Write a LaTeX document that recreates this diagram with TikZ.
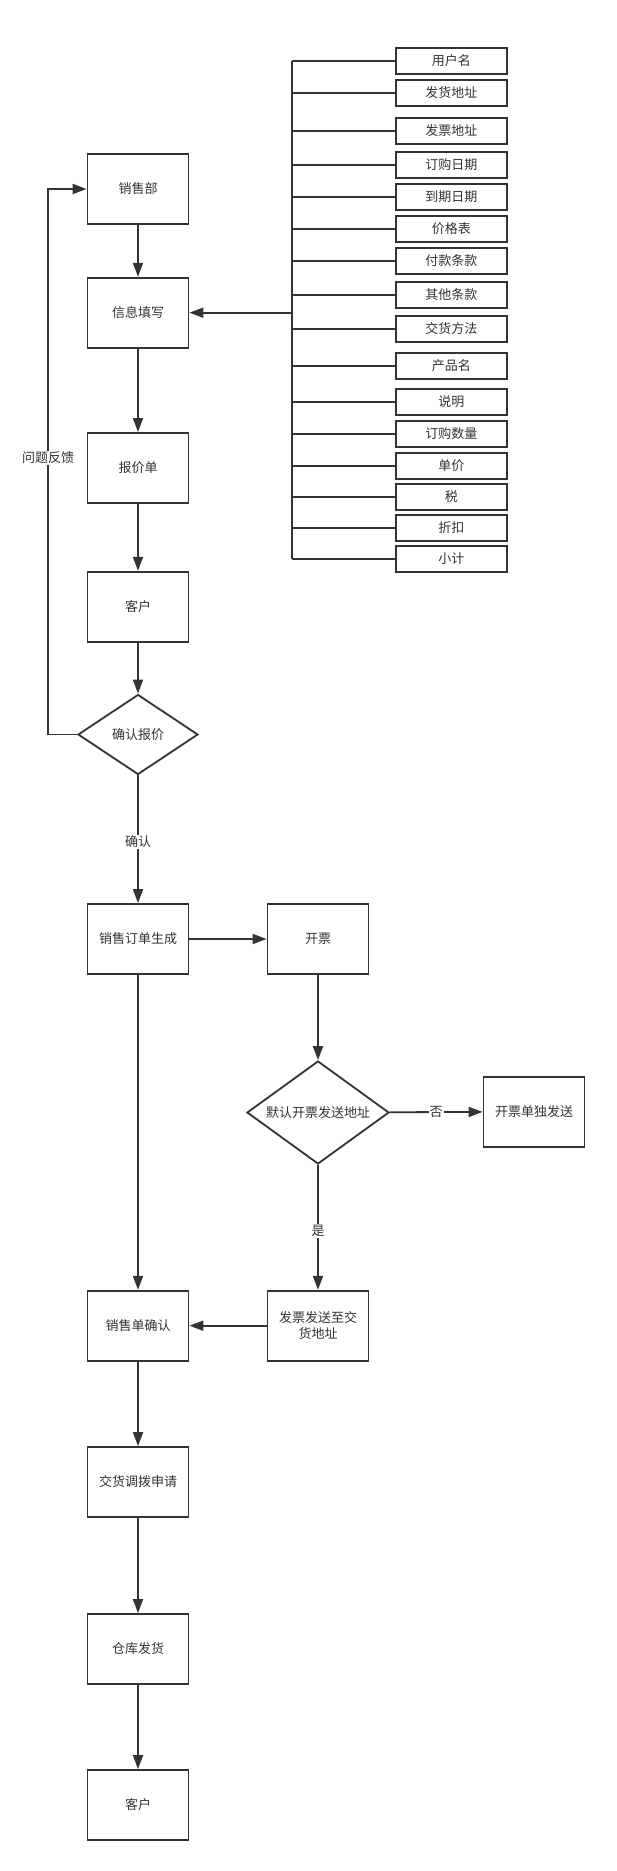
\documentclass[tikz,border=0pt]{standalone}
\usepackage{fontspec}
\newfontfamily\cjk{Noto Sans CJK SC}
\usetikzlibrary{arrows.meta,shapes.geometric}
\definecolor{ink}{HTML}{333333}
\tikzset{
  base/.style={draw=ink, line width=1.8pt, text=ink, font=\cjk\fontsize{13}{16}\selectfont, fill=white, inner sep=0pt},
  box/.style={base, rectangle, minimum width=101pt, minimum height=70pt, align=center},
  small/.style={base, rectangle, minimum width=111pt, minimum height=26pt},
  dia/.style={base, diamond, aspect=1.4},
  conn/.style={draw=ink, line width=1.8pt},
  arr/.style={conn, -{Triangle[length=14pt,width=10pt]}},
  lbl/.style={fill=white, text=ink, font=\cjk\fontsize{13}{16}\selectfont, inner sep=1pt}
}
\begin{document}
\begin{tikzpicture}[x=1pt,y=-1pt]
\useasboundingbox (0,0) rectangle (616,1871);
% left column
\node[box] (xsb) at (138,189) {销售部};
\node[box] (info) at (138,312.7) {信息填写};
\node[box] (quote) at (138,468) {报价单};
\node[box] (cust1) at (138,606.7) {客户};
\node[dia, minimum width=120pt, minimum height=80pt] (conf) at (138,734.5) {确认报价};
\node[box] (order) at (138,939) {销售订单生成};
\node[box] (inv) at (318,939) {开票};
\node[dia, minimum width=142pt, minimum height=103pt] (def) at (318,1112.5) {默认开票发送地址};
\node[box] (sep) at (534,1111.7) {开票单独发送};
\node[box] (send) at (318,1325.7) {发票发送至交\\货地址};
\node[box] (ocnf) at (138,1325.7) {销售单确认};
\node[box] (req) at (138,1482) {交货调拨申请};
\node[box] (wh) at (138,1649) {仓库发货};
\node[box] (cust2) at (138,1805) {客户};
% right list
\coordinate (busx) at (292,0);
\node[small] (r1) at (451.3,60.7) {用户名};
\node[small] (r2) at (451.3,92.7) {发货地址};
\node[small] (r3) at (451.3,130.7) {发票地址};
\node[small] (r4) at (451.3,165) {订购日期};
\node[small] (r5) at (451.3,196.7) {到期日期};
\node[small] (r6) at (451.3,228.7) {价格表};
\node[small] (r7) at (451.3,260.7) {付款条款};
\node[small] (r8) at (451.3,294.7) {其他条款};
\node[small] (r9) at (451.3,329) {交货方法};
\node[small] (r10) at (451.3,365.7) {产品名};
\node[small] (r11) at (451.3,402) {说明};
\node[small] (r12) at (451.3,434) {订购数量};
\node[small] (r13) at (451.3,466) {单价};
\node[small] (r14) at (451.3,496.7) {税};
\node[small] (r15) at (451.3,528) {折扣};
\node[small] (r16) at (451.3,559) {小计};
\draw[conn] (r1.west -| busx) -- (r16.west -| busx);
\foreach \i in {1,...,16} {\draw[conn] (r\i.west) -- (r\i.west -| busx);}
\draw[arr] (info.east -| busx) -- (info.east);
% main flow
\draw[arr] (xsb) -- (info);
\draw[arr] (info) -- (quote);
\draw[arr] (quote) -- (cust1);
\draw[arr] (cust1) -- (conf);
\draw[arr] (conf) -- node[lbl, pos=0.52] (lconf) {确认} (order);
\coordinate (fb) at (48,734.5);
\draw[arr] (conf.west) -- (fb) |- (xsb.west);
\node[lbl] (lfb) at (48,457.7) {问题反馈};
\draw[arr] (order) -- (inv);
\draw[arr] (inv) -- (def);
\draw[arr] (def) -- node[lbl, pos=0.5] (lno) {否} (sep);
\draw[arr] (def) -- node[lbl, pos=0.53] (lyes) {是} (send);
\draw[arr] (send) -- (ocnf);
\draw[arr] (order) -- (ocnf);
\draw[arr] (ocnf) -- (req);
\draw[arr] (req) -- (wh);
\draw[arr] (wh) -- (cust2);
\end{tikzpicture}
\end{document}
